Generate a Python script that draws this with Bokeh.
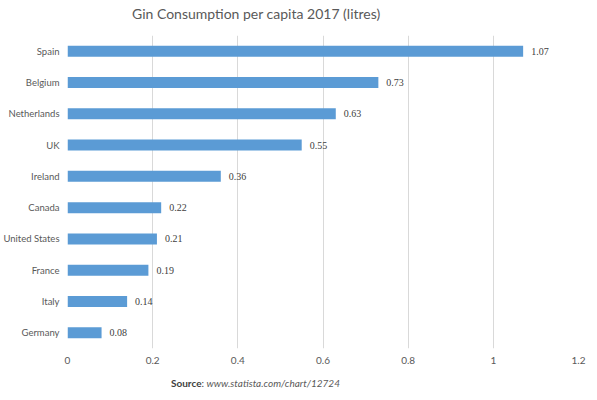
from bokeh.plotting import figure
from bokeh.models import ColumnDataSource, FixedTicker, CustomJSTickFormatter, Div
from bokeh.layouts import column
from bokeh.embed import file_html
from bokeh.resources import INLINE

countries = ["Spain", "Belgium", "Netherlands", "UK", "Ireland", "Canada",
             "United States", "France", "Italy", "Germany"]
litres = [1.07, 0.73, 0.63, 0.55, 0.36, 0.22, 0.21, 0.19, 0.14, 0.08]
x_ticks = [0, 0.2, 0.4, 0.6, 0.8, 1, 1.2]

FONT = "Lato"
GREY = "#595959"

src = ColumnDataSource(data=dict(
    country=countries,
    litres=litres,
    label=["%g" % v for v in litres],
))

# title above the chart
heading = Div(text='<span style="font-family: Lato; font-size: 14px; color: #595959;">'
                   'Gin Consumption per capita 2017 (litres)</span>',
              width=589, height=20, margin=(4, 0, 0, 132))

p = figure(y_range=list(reversed(countries)), x_range=(0, 1.2),
           width=589, height=348, title=None,
           output_backend="svg", toolbar_location=None,
           min_border_left=67, min_border_right=11,
           min_border_top=11, min_border_bottom=24)

# bars
p.hbar(y="country", right="litres", left=0, height=0.35, source=src,
       fill_color="#5B9BD5", line_color=None)

# value labels at the end of each bar
p.text(x="litres", y="country", text="label", source=src,
       x_offset=8, text_baseline="middle", text_align="left",
       text_font_size="10px", text_color="#404040", text_font=FONT)

p.outline_line_color = None
p.ygrid.grid_line_color = None
p.xgrid.grid_line_color = "#d9d9d9"
p.xgrid.ticker = FixedTicker(ticks=x_ticks)

p.xaxis.ticker = FixedTicker(ticks=x_ticks)
p.xaxis.formatter = CustomJSTickFormatter(code="return String(Math.round(tick*10)/10)")
for ax in (p.xaxis, p.yaxis):
    ax.axis_line_color = None
    ax.major_tick_line_color = None
    ax.minor_tick_line_color = None
    ax.major_tick_out = 0
    ax.major_label_text_font = FONT
    ax.major_label_text_font_size = "10px"
    ax.major_label_text_color = GREY
p.yaxis.major_label_text_font_size = "9.5px"
p.yaxis.major_label_standoff = 8
p.xaxis.major_label_standoff = 8

# source note under the chart
note = Div(text='<span style="font-family: Lato; font-size: 10px; color: #404040;">'
                '<b>Source</b>: <i style="color: #595959;">www.statista.com/chart/12724</i></span>',
           width=589, height=20, margin=(3, 0, 0, 171))

open("out.html", "w").write(file_html(column(heading, p, note, spacing=0), INLINE))
